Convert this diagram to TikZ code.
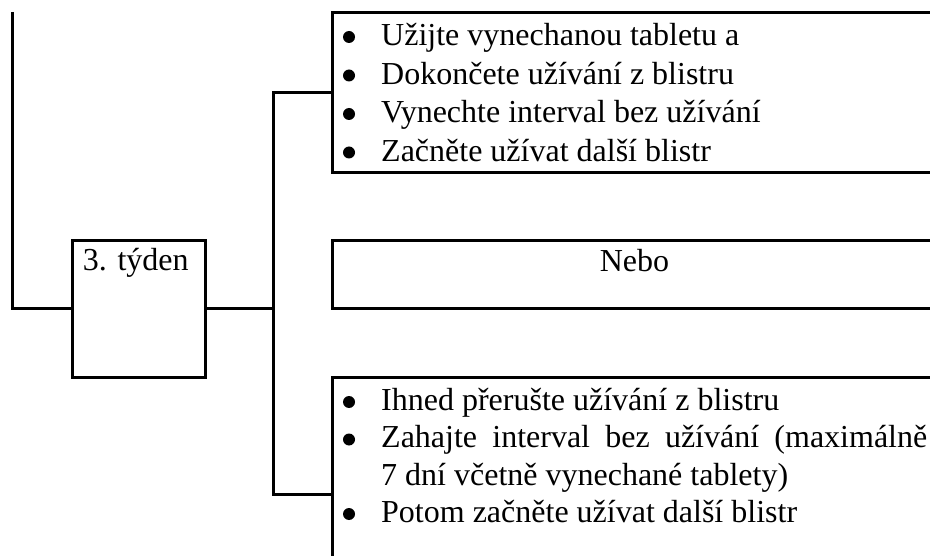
\documentclass[tikz,border=0pt]{standalone}
\usepackage{fontspec}
\setmainfont{Liberation Serif}
\begin{document}
\begin{tikzpicture}[x=1pt,y=-1pt,
  frame/.style={draw, line width=3pt, rectangle, inner sep=0pt},
  txt/.style={anchor=base west, inner sep=0pt, font=\fontsize{32}{37}\selectfont},
  dot/.style={circle, fill, inner sep=0pt, minimum size=12pt},
  conn/.style={line width=3pt}]
\useasboundingbox (0,0) rectangle (930,556);
\clip (0,0) rectangle (930,556);

% boxes
\node[frame, minimum width=132.5pt, minimum height=136pt] (week) at (138.75,309) {};
\node[frame, minimum width=605pt, minimum height=160pt] (topbox) at (634.5,93) {};
\node[frame, minimum width=605pt, minimum height=68pt] (orbox) at (634.5,275) {};
\node[frame, minimum width=605pt, minimum height=234pt] (botbox) at (634.5,494) {};

% texts
\node[txt] (weektxt) at (82.7,271) {3. týden};
\node[txt, anchor=base] (nebo) at (634.5,271.5) {Nebo};

\node[dot] (b1) at (349,37) {};
\node[txt] (t1) at (381,46) {Užijte vynechanou tabletu a};
\node[dot] (b2) at (349,75.5) {};
\node[txt] (t2) at (381,84.5) {Dokončete užívání z blistru};
\node[dot] (b3) at (349,114) {};
\node[txt] (t3) at (381,123) {Vynechte interval bez užívání};
\node[dot] (b4) at (349,152.5) {};
\node[txt] (t4) at (381,161.5) {Začněte užívat další blistr};

\node[dot] (c1) at (349,402) {};
\node[txt] (u1) at (381,410) {Ihned přerušte užívání z blistru};
\node[dot] (c2) at (349,439.5) {};
\node[txt] (u2) at (381,447.5) {\makebox[546pt][s]{Zahajte interval bez užívání (maximálně}};
\node[txt] (u3) at (381,485) {7 dní včetně vynechané tablety)};
\node[dot] (c4) at (349,514) {};
\node[txt] (u4) at (381,522) {Potom začněte užívat další blistr};

% connectors
\coordinate (topend) at (12,12);
\coordinate (junction) at (273,309);
\draw[conn] (topend) |- (week.west);
\draw[conn] (week.east) -- (junction);
\draw[conn] (topbox.west) -| (junction) |- (botbox.west);
\end{tikzpicture}
\end{document}
